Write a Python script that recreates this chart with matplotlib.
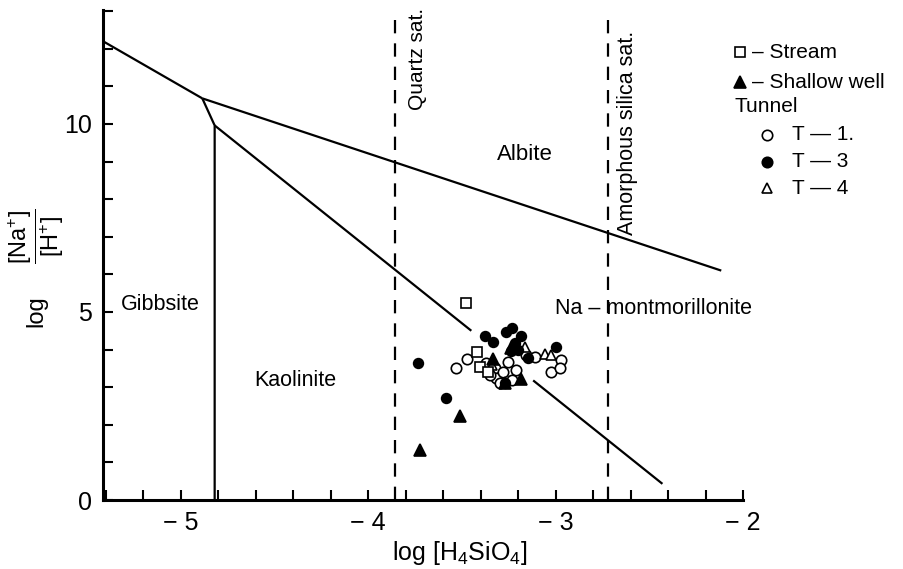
import matplotlib
matplotlib.use("Agg")
import matplotlib.pyplot as plt
from matplotlib.ticker import MultipleLocator, FixedLocator

plt.rcParams['font.family'] = ['Liberation Sans', 'DejaVu Sans']
plt.rcParams['mathtext.fontset'] = 'custom'
plt.rcParams['mathtext.rm'] = 'Liberation Sans'
plt.rcParams['mathtext.it'] = 'Liberation Sans'

# Stability-field boundaries (log H4SiO4, log Na/H)
gibbsite_albite_x = [-5.416, -4.886]
gibbsite_albite_y = [12.2, 10.68]
albite_mont_x = [-4.886, -2.116]
albite_mont_y = [10.68, 6.10]
gibbsite_kaol_x = [-4.886, -4.82, -4.82]
gibbsite_kaol_y = [10.68, 9.96, 0.0]
kaol_mont_upper_x = [-4.82, -3.45]
kaol_mont_upper_y = [9.96, 4.50]
kaol_mont_lower_x = [-3.12, -2.43]
kaol_mont_lower_y = [3.18, 0.43]

quartz_sat = -3.86
amorphous_silica_sat = -2.72

# Water samples
stream_x = [-3.476, -3.42, -3.405, -3.36]
stream_y = [5.25, 3.93, 3.55, 3.40]

well_x = [-3.725, -3.512, -3.334, -3.272, -3.183, -3.24]
well_y = [1.33, 2.23, 3.74, 3.10, 3.21, 4.05]

t1_x = [-3.53, -3.473, -3.37, -3.325, -3.316, -3.299, -3.254, -3.213,
        -3.231, -3.156, -3.112, -2.97, -3.023, -2.979, -3.352, -3.28]
t1_y = [3.52, 3.74, 3.65, 3.50, 3.24, 3.12, 3.68, 3.46,
        3.19, 3.86, 3.81, 3.72, 3.41, 3.50, 3.32, 3.40]

t3_x = [-3.734, -3.587, -3.379, -3.334, -3.263, -3.231, -3.183, -3.219,
        -3.201, -3.0, -3.148, -3.27, -3.24]
t3_y = [3.65, 2.72, 4.36, 4.21, 4.48, 4.57, 4.36, 4.17,
        3.99, 4.08, 3.77, 3.10, 3.95]

t4_x = [-3.059, -3.023, -3.165, -3.34]
t4_y = [3.88, 3.86, 4.08, 3.60]

xticks_major = [-5, -4, -3, -2]
xtick_labels = ['\u2212 5', '\u2212 4', '\u2212 3', '\u2212 2']
yticks_major = [0, 5, 10]
ytick_labels = ['0', '5', '10']

W, H = 904, 569
fig = plt.figure(figsize=(W / 100, H / 100), dpi=100)
ax = fig.add_axes([103 / W, 1 - 500 / H, (743 - 103) / W, (500 - 10) / H])
ax.set_xlim(-5.416, -2.0)
ax.set_ylim(0, 13.03)

for s in ['top', 'right']:
    ax.spines[s].set_visible(False)
for s in ['left', 'bottom']:
    ax.spines[s].set_linewidth(2.2)

line_kw = dict(color='black', lw=1.6, solid_capstyle='butt')
ax.plot(gibbsite_albite_x, gibbsite_albite_y, **line_kw)
ax.plot(albite_mont_x, albite_mont_y, **line_kw)
ax.plot(gibbsite_kaol_x, gibbsite_kaol_y, **line_kw)
ax.plot(kaol_mont_upper_x, kaol_mont_upper_y, **line_kw)
ax.plot(kaol_mont_lower_x, kaol_mont_lower_y, **line_kw)

for xv in (quartz_sat, amorphous_silica_sat):
    ax.plot([xv, xv], [0, 13.03], color='black', lw=1.6, dashes=(6, 4.5))

mk = dict(linestyle='none', color='black', markeredgewidth=1.2)
ax.plot(t1_x, t1_y, marker='o', markersize=7.5, markerfacecolor='white', **mk)
ax.plot(t4_x, t4_y, marker='^', markersize=7.5, markerfacecolor='white', **mk)
ax.plot(stream_x, stream_y, marker='s', markersize=7, markerfacecolor='white', **mk)
ax.plot(t3_x, t3_y, marker='o', markersize=7, markerfacecolor='black', **mk)
ax.plot(well_x, well_y, marker='^', markersize=8, markerfacecolor='black', **mk)

# Field names
region_fs = 15.5
ax.text(-3.165, 9.18, 'Albite', fontsize=16, ha='center', va='center')
ax.text(-5.11, 5.19, 'Gibbsite', fontsize=region_fs, ha='center', va='center')
ax.text(-4.39, 3.19, 'Kaolinite', fontsize=region_fs, ha='center', va='center')
ax.text(-2.48, 5.08, 'Na \u2013 montmorillonite', fontsize=region_fs,
        ha='center', va='center')
ax.text(-3.74, 11.73, 'Quartz sat.', fontsize=15, rotation=90,
        ha='center', va='center')
ax.text(-2.616, 9.76, 'Amorphous silica sat.', fontsize=15.5, rotation=90,
        ha='center', va='center')

# Ticks
ax.xaxis.set_major_locator(FixedLocator(xticks_major))
ax.set_xticklabels(xtick_labels)
ax.xaxis.set_minor_locator(MultipleLocator(0.2))
ax.yaxis.set_major_locator(FixedLocator(yticks_major))
ax.set_yticklabels(ytick_labels)
ax.yaxis.set_minor_locator(MultipleLocator(1))
ax.tick_params(which='both', direction='in', width=1.5, length=7,
               labelsize=18, pad=8)

# Axis titles
fig.text(460 / W, 1 - 553 / H, 'log [H$_4$SiO$_4$]', fontsize=18,
         ha='center', va='center')
fig.text(36 / W, 1 - 311 / H, 'log', fontsize=17, rotation=90,
         ha='center', va='center')
fig.text(36 / W, 1 - 236 / H,
         r'$\dfrac{[\mathrm{Na}^{+}]}{[\mathrm{H}^{+}]}$', fontsize=17,
         rotation=90, ha='center', va='center')

# Key
def px(x, y):
    return x / W, 1 - y / H

key_fs = 15

def key_marker(x, y, m, fc, size):
    fx, fy = px(x, y)
    fig.lines.append(plt.Line2D([fx], [fy], marker=m, markersize=size,
                                markerfacecolor=fc, markeredgecolor='black',
                                markeredgewidth=1.2, linestyle='none',
                                transform=fig.transFigure))

key_marker(740, 52, 's', 'white', 7)
fig.text(*px(752, 52), '\u2013 Stream', fontsize=key_fs, va='center')
key_marker(740, 82, '^', 'black', 8)
fig.text(*px(752, 82), '\u2013 Shallow well', fontsize=key_fs, va='center')
fig.text(*px(735, 107), 'Tunnel', fontsize=key_fs, va='center')

key_rows = [('o', 'white', 'T \u2014 1.', 135),
            ('o', 'black', 'T \u2014 3', 162),
            ('^', 'white', 'T \u2014 4', 188)]
for m, fc, label, yy in key_rows:
    key_marker(767, yy, m, fc, 7.5)
    fig.text(*px(792, yy), label, fontsize=key_fs, va='center')

fig.savefig('out.png', dpi=100)
